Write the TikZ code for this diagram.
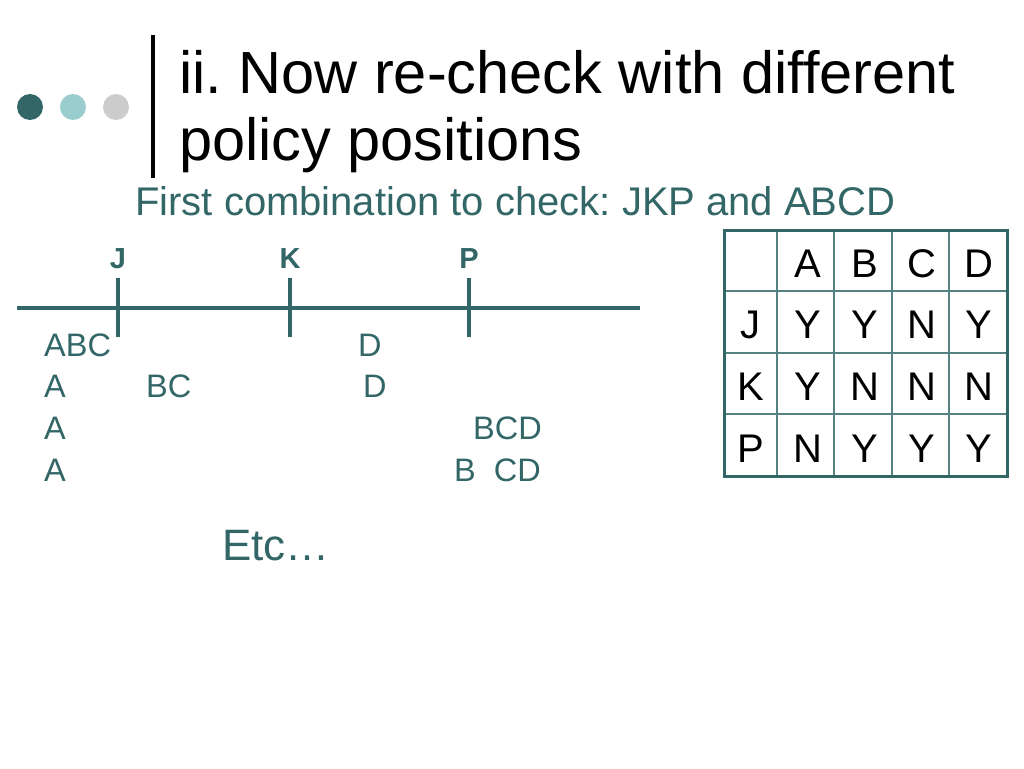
\documentclass[tikz,border=0pt]{standalone}
\usepackage{fontspec}
\setmainfont{Liberation Sans}
\usetikzlibrary{positioning}
\definecolor{tealdark}{RGB}{51,102,102}
\definecolor{teallight}{RGB}{153,204,204}
\definecolor{dotgray}{RGB}{204,204,204}
\definecolor{gridteal}{RGB}{84,130,130}
\frenchspacing

\begin{document}
\begin{tikzpicture}[x=1pt,y=-1pt,
    txt/.style={inner sep=0pt, anchor=base west, text=tealdark, font=\fontsize{32.5}{38}\selectfont},
    poslabel/.style={inner sep=0pt, anchor=base, text=tealdark, font=\fontsize{29}{34}\selectfont\bfseries},
    cell/.style={inner sep=0pt, anchor=base, font=\fontsize{40}{48}\selectfont}]
    \useasboundingbox (0,0) rectangle (1024,768);

    % 左上角圆点
    \fill[tealdark] (30,107) circle [radius=13];
    \fill[teallight] (73,107) circle [radius=13];
    \fill[dotgray] (116,107) circle [radius=13];
    \draw[line width=4pt] (153,35) -- (153,178); % 竖线

    % 标题
    \node[anchor=base west, inner sep=0pt, font=\fontsize{59.5}{67}\selectfont] (title1) at (179,93) {ii. Now re-check with different};
    \node[anchor=base west, inner sep=0pt, font=\fontsize{59.5}{67}\selectfont] (title2) at (179,160) {policy positions};
    \node[txt, font=\fontsize{40}{46}\selectfont] (sub) at (135,215) {First combination to check: JKP and ABCD};

    % 绘制数轴
    \coordinate (axisL) at (17,308);
    \coordinate (axisR) at (640,308);
    \draw[tealdark, line width=4.5pt] (axisL) -- (axisR);
    \foreach \n/\x in {J/118, K/290, P/469} {
        \draw[tealdark, line width=4.5pt] (\x,278) -- (\x,337); % 刻度
        \node[poslabel] (lab\n) at (\x,268) {\n};
    }

    % 数轴下方的位置
    \node[txt] (r1a) at (44,356) {ABC};
    \node[txt] (r1b) at (358,356) {D};
    \node[txt] (r2a) at (44,397) {A};
    \node[txt] (r2b) at (146,397) {BC};
    \node[txt] (r2c) at (363,397) {D};
    \node[txt] (r3a) at (44,439) {A};
    \node[txt] (r3b) at (473,439) {BCD};
    \node[txt] (r4a) at (44,481) {A};
    \node[txt] (r4b) at (454,481) {B\ \ CD};

    \node[txt, font=\fontsize{44}{50}\selectfont] (etc) at (222,560) {Etc…};

    % 绘制表格
    \foreach \x in {777,834,892,949} \draw[gridteal, line width=2pt] (\x,230) -- (\x,476);
    \foreach \y in {291,353,414} \draw[gridteal, line width=2pt] (724,\y) -- (1007,\y);
    \draw[tealdark, line width=3pt] (724,230) rectangle (1007,476);
    \foreach \row [count=\i] in {{ ,A,B,C,D},{J,Y,Y,N,Y},{K,Y,N,N,N},{P,N,Y,Y,Y}} {
        \foreach \t [count=\j] in \row {
            \node[cell] (c\i\j) at ({750.5+(\j-1)*57},{277+(\i-1)*61.7}) {\t};
        }
    }
\end{tikzpicture}
\end{document}
